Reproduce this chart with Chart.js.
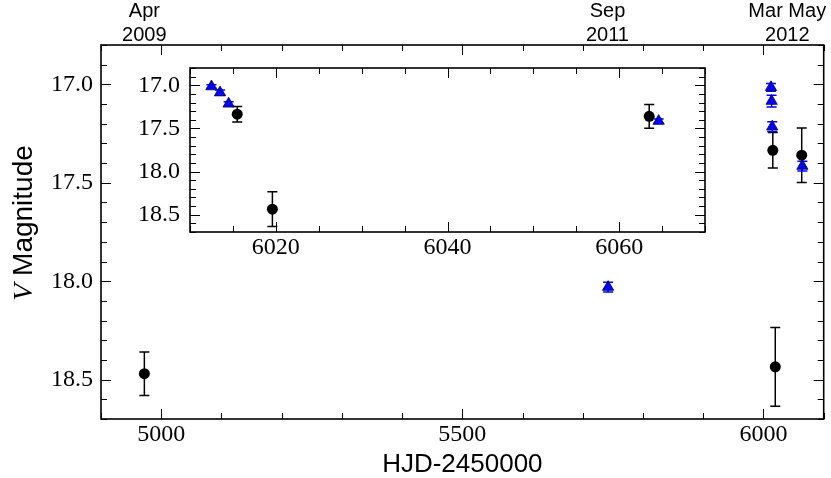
<!DOCTYPE html>
<html><head><meta charset="utf-8">
<script src="https://cdn.jsdelivr.net/npm/chart.js@4"></script>
<style>
html,body{margin:0;padding:0;background:#fff;}
#wrap{position:relative;width:831px;height:478px;overflow:hidden;}
#main{position:absolute;left:0;top:0;}
#inset{position:absolute;left:130px;top:58px;}
</style></head><body>
<div id="wrap">
<canvas id="main" width="831" height="478"></canvas>
<canvas id="inset" width="590" height="210"></canvas>
</div>
<script>
// ---- data (HJD-2450000, V magnitude, 1-sigma error) ----
const circleHJD = [4972, 6015.5, 6019.6, 6063.5];
const circleMag = [18.47, 17.335, 18.435, 17.36];
const circleErr = [0.11, 0.09, 0.20, 0.138];

const triHJD = [5742, 6012.5, 6013.5, 6014.5, 6064.6];
const triMag = [18.03, 17.015, 17.085, 17.215, 17.415];
const triErr = [0.025, 0.02, 0.03, 0.025, 0.025];

const topTickHJD = [4972, 5741, 6039.5];
const topTickLabels = [["Apr", "2009"], ["Sep", "2011"], ["Mar May", "2012"]];

const mainXRange = [4900, 6100];
const insetXRange = [6010, 6070];
const magRange = [16.8, 18.7];

const serif = "'Liberation Serif', 'Times New Roman', serif";
const sans = "'Liberation Sans', Arial, Helvetica, sans-serif";

function pts(xs, ys) { return xs.map((x, i) => ({ x: x, y: ys[i] })); }

function datasets() {
  return [
    { label: 'circles', data: pts(circleHJD, circleMag), errors: circleErr, errColor: '#000000',
      pointStyle: 'circle', pointRadius: 5.5, backgroundColor: '#000000', borderWidth: 0 },
    { label: 'triangles', data: pts(triHJD, triMag), errors: triErr, errColor: '#0000ff',
      pointStyle: 'triangle', pointRadius: 6.5, backgroundColor: '#0000ff', borderColor: '#00005a', borderWidth: 0.8 }
  ];
}

const errorBars = {
  id: 'errorBars',
  beforeDatasetsDraw(chart) {
    const ctx = chart.ctx, xs = chart.scales.x, ys = chart.scales.y, a = chart.chartArea;
    ctx.save();
    ctx.beginPath(); ctx.rect(a.left, a.top, a.right - a.left, a.bottom - a.top); ctx.clip();
    ctx.lineWidth = 1.5;
    chart.data.datasets.forEach(ds => {
      ctx.strokeStyle = ds.errColor;
      ds.data.forEach((p, i) => {
        const e = ds.errors[i];
        const px = xs.getPixelForValue(p.x);
        const y1 = ys.getPixelForValue(p.y - e), y2 = ys.getPixelForValue(p.y + e);
        ctx.beginPath();
        ctx.moveTo(px, y1); ctx.lineTo(px, y2);
        ctx.moveTo(px - 5, y1); ctx.lineTo(px + 5, y1);
        ctx.moveTo(px - 5, y2); ctx.lineTo(px + 5, y2);
        ctx.stroke();
      });
    });
    ctx.restore();
  }
};

function isMajor(v, step) { const r = v / step; return Math.abs(r - Math.round(r)) < 1e-6; }

const frameTicks = {
  id: 'frameTicks',
  afterDraw(chart, args, opts) {
    const ctx = chart.ctx, a = chart.chartArea, xs = chart.scales.x, ys = chart.scales.y;
    ctx.save();
    ctx.strokeStyle = '#000'; ctx.lineWidth = 1;
    ctx.beginPath();
    xs.ticks.forEach(t => {
      const px = Math.round(xs.getPixelForValue(t.value)) + 0.5;
      const len = isMajor(t.value, opts.xMajor) ? 10 : 6;
      ctx.moveTo(px, a.bottom); ctx.lineTo(px, a.bottom - len);
      ctx.moveTo(px, a.top); ctx.lineTo(px, a.top + len);
    });
    ys.ticks.forEach(t => {
      const py = Math.round(ys.getPixelForValue(t.value)) + 0.5;
      const len = isMajor(t.value, opts.yMajor) ? 10 : 6;
      ctx.moveTo(a.left, py); ctx.lineTo(a.left + len, py);
      ctx.moveTo(a.right, py); ctx.lineTo(a.right - len, py);
    });
    ctx.stroke();
    ctx.lineWidth = 1.6;
    ctx.strokeRect(a.left, a.top, a.right - a.left, a.bottom - a.top);
    if (opts.yTitle) {
      ctx.fillStyle = '#000';
      ctx.translate(opts.yTitle.x, opts.yTitle.y);
      ctx.rotate(-Math.PI / 2);
      ctx.textBaseline = 'alphabetic';
      const fs = opts.yTitle.size;
      ctx.font = 'italic ' + fs + 'px ' + serif;
      const w1 = ctx.measureText('V').width;
      ctx.font = fs + 'px ' + sans;
      const w2 = ctx.measureText(' Magnitude').width;
      let x0 = -(w1 + w2) / 2;
      ctx.font = 'italic ' + fs + 'px ' + serif;
      ctx.fillText('V', x0, 0);
      ctx.font = fs + 'px ' + sans;
      ctx.fillText(' Magnitude', x0 + w1, 0);
    }
    ctx.restore();
  }
};

function noPad(s) { s.paddingTop = 0; s.paddingBottom = 0; s.paddingLeft = 0; s.paddingRight = 0; }
function magLabel(v) { return isMajor(v, 0.5) ? v.toFixed(1) : ''; }

new Chart(document.getElementById('main'), {
  type: 'scatter',
  data: { datasets: datasets() },
  plugins: [errorBars, frameTicks],
  options: {
    responsive: false, animation: false, devicePixelRatio: 1,
    layout: { padding: { left: 0, right: 4, top: 0, bottom: 0 } },
    plugins: { legend: { display: false }, tooltip: { enabled: false },
      frameTicks: { xMajor: 500, yMajor: 0.5, yTitle: { x: 32, y: 223, size: 28 } } },
    scales: {
      x: {
        type: 'linear', position: 'bottom', min: mainXRange[0], max: mainXRange[1],
        grid: { display: false }, border: { display: false },
        ticks: { stepSize: 100, autoSkip: false, maxRotation: 0, padding: -7, color: '#000',
          font: { family: serif, size: 24 },
          callback: v => isMajor(v, 500) ? String(v) : '' },
        title: { display: true, text: 'HJD-2450000', color: '#000',
          font: { family: sans, size: 26, lineHeight: 1 }, padding: { top: 0, bottom: 0 } },
        afterFit(s) { noPad(s); s.height = 59; }
      },
      xTop: {
        type: 'linear', position: 'top', min: mainXRange[0], max: mainXRange[1],
        grid: { display: false }, border: { display: false },
        afterBuildTicks(s) { s.ticks = topTickHJD.map(v => ({ value: v })); },
        ticks: { autoSkip: false, maxRotation: 0, padding: -10, color: '#000',
          font: { family: sans, size: 20, lineHeight: 1.17 },
          callback: (v, i) => topTickLabels[i] },
        afterFit(s) { noPad(s); s.height = 45; }
      },
      y: {
        type: 'linear', position: 'left', reverse: true, min: magRange[0], max: magRange[1],
        grid: { display: false }, border: { display: false },
        ticks: { stepSize: 0.1, autoSkip: false, padding: 0, color: '#000',
          font: { family: serif, size: 24 }, callback: magLabel },
        afterFit(s) { noPad(s); s.width = 101; }
      }
    }
  }
});

new Chart(document.getElementById('inset'), {
  type: 'scatter',
  data: { datasets: datasets() },
  plugins: [errorBars, frameTicks],
  options: {
    responsive: false, animation: false, devicePixelRatio: 1,
    layout: { padding: { left: 0, right: 15, top: 10, bottom: 0 } },
    plugins: { legend: { display: false }, tooltip: { enabled: false },
      frameTicks: { xMajor: 20, yMajor: 0.5 } },
    scales: {
      x: {
        type: 'linear', position: 'bottom', min: insetXRange[0], max: insetXRange[1],
        grid: { display: false }, border: { display: false },
        ticks: { stepSize: 5, autoSkip: false, maxRotation: 0, padding: -7, color: '#000',
          font: { family: serif, size: 24 },
          callback: v => isMajor(v, 20) ? String(v) : '' },
        afterFit(s) { noPad(s); s.height = 36; }
      },
      y: {
        type: 'linear', position: 'left', reverse: true, min: magRange[0], max: magRange[1],
        grid: { display: false }, border: { display: false },
        ticks: { stepSize: 0.1, autoSkip: false, padding: 2, color: '#000',
          font: { family: serif, size: 24 }, callback: magLabel },
        afterFit(s) { noPad(s); s.width = 60; }
      }
    }
  }
});
</script>
</body></html>
